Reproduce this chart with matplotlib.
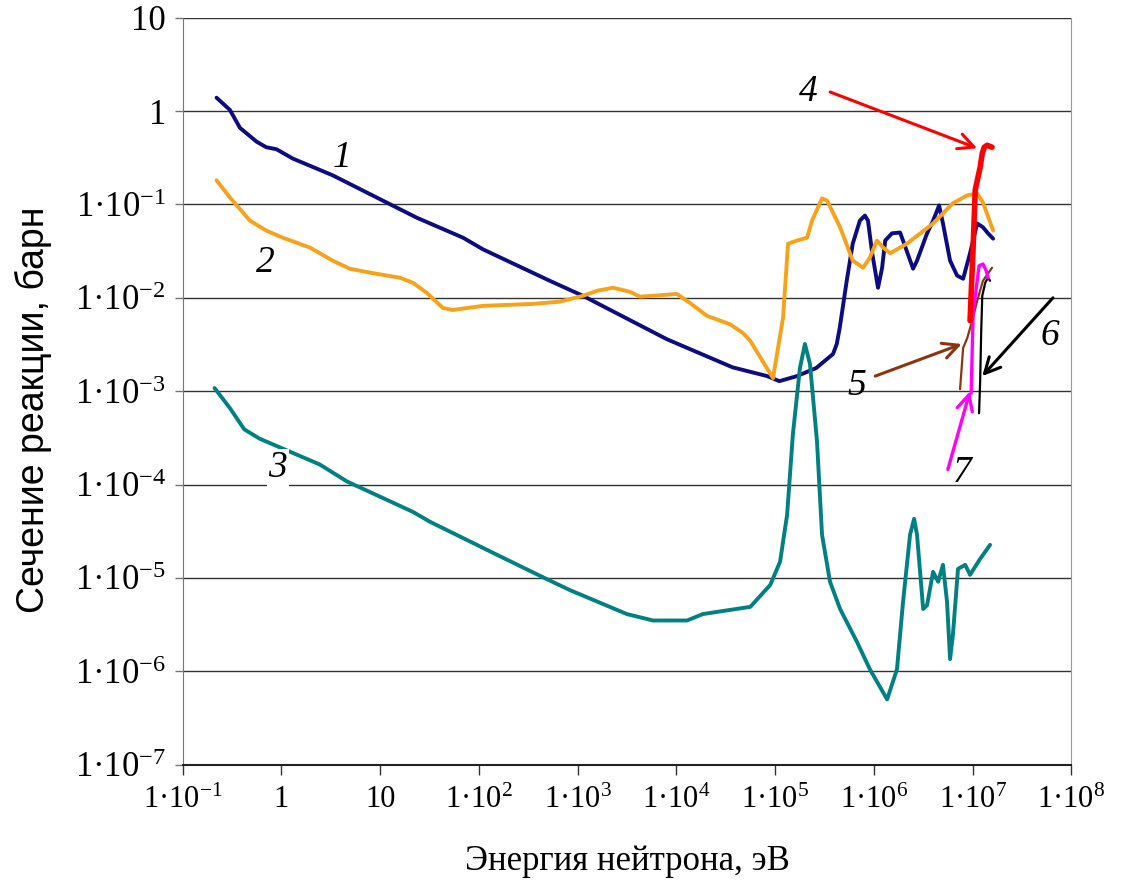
import numpy as np
import matplotlib
matplotlib.use("Agg")
from matplotlib import pyplot as plt
from matplotlib.ticker import FixedLocator, NullLocator

plt.rcParams['font.family'] = ['Liberation Serif', 'DejaVu Serif']
plt.rcParams['mathtext.fontset'] = 'custom'
plt.rcParams['mathtext.rm'] = 'Liberation Serif'
plt.rcParams['mathtext.it'] = 'Liberation Serif:italic'
plt.rcParams['lines.solid_joinstyle'] = 'round'
plt.rcParams['lines.solid_capstyle'] = 'round'

# curve 1 (navy)
e1 = [0.22, 0.30, 0.38, 0.56, 0.70, 0.89, 1.3, 3.3, 10.6, 23.5, 69, 110, 522, 1130,
      8000, 3.7e4, 8.3e4, 1.1e5, 1.66e5, 2.6e5, 3.85e5, 4.2e5, 4.5e5, 5.3e5, 6.1e5,
      7.2e5, 8.1e5, 8.7e5, 9.6e5, 1.07e6, 1.1e6, 1.21e6, 1.3e6, 1.52e6, 1.84e6,
      1.97e6, 2.49e6, 2.73e6, 3.45e6, 3.97e6, 4.57e6, 5.0e6, 5.9e6, 6.95e6, 8.0e6,
      9.4e6, 1.11e7, 1.27e7, 1.43e7, 1.61e7]
s1 = [1.39, 1.03, 0.66, 0.47, 0.41, 0.39, 0.31, 0.205, 0.11, 0.072, 0.044, 0.033,
      0.0152, 0.0105, 0.0036, 0.0018, 0.00145, 0.00128, 0.00145, 0.00177, 0.0025,
      0.0032, 0.00475, 0.0152, 0.038, 0.067, 0.076, 0.067, 0.030, 0.0152, 0.0128,
      0.021, 0.041, 0.049, 0.050, 0.041, 0.0205, 0.025, 0.049, 0.067, 0.0975,
      0.0625, 0.025, 0.0173, 0.016, 0.030, 0.0625, 0.057, 0.049, 0.043]

# curve 2 (orange)
e2 = [0.22, 0.30, 0.48, 0.70, 1.03, 1.94, 3.3, 4.9, 7.85, 15.8, 21.4, 29.6, 43, 54,
      110, 352, 660, 1130, 1570, 2280, 3380, 4270, 5780, 1.01e4, 1.37e4, 2.04e4,
      3.5e4, 4.7e4, 5.6e4, 9.5e4, 1.2e5, 1.35e5, 1.66e5, 2.1e5, 2.36e5, 2.98e5,
      3.35e5, 4.54e5, 6.1e5, 7.76e5, 9.1e5, 1.07e6, 1.24e6, 1.46e6, 2.16e6, 3.97e6,
      6.3e6, 8.8e6, 1.11e7, 1.27e7, 1.61e7]
s2 = [0.181, 0.119, 0.067, 0.0525, 0.044, 0.0345, 0.025, 0.0205, 0.0186, 0.0164,
      0.0145, 0.0113, 0.0078, 0.0074, 0.0082, 0.0086, 0.0091, 0.0105, 0.0119, 0.0128,
      0.0116, 0.0103, 0.0105, 0.011, 0.0088, 0.0064, 0.0052, 0.0042, 0.00345,
      0.00138, 0.0061, 0.038, 0.041, 0.044, 0.067, 0.116, 0.11, 0.057, 0.025, 0.021,
      0.027, 0.041, 0.0345, 0.030, 0.038, 0.0625, 0.103, 0.125, 0.131, 0.105, 0.0525]

# curve 3 (teal)
e3 = [0.21, 0.30, 0.42, 0.60, 2.44, 4.6, 21.4, 31.8, 152, 487, 834, 3150, 5780,
      1.28e4, 1.85e4, 5.6e4, 8.9e4, 1.12e5, 1.32e5, 1.51e5, 1.78e5, 2.0e5, 2.25e5,
      2.65e5, 2.98e5, 3.59e5, 4.54e5, 6.75e5, 9.1e5, 1.36e6, 1.71e6, 1.97e6, 2.32e6,
      2.55e6, 2.73e6, 3.15e6, 3.45e6, 3.97e6, 4.47e6, 5.0e6, 5.5e6, 5.9e6, 6.3e6,
      7.1e6, 8.4e6, 9.4e6, 1.19e7, 1.5e7]
s3 = [1.08e-3, 6.6e-4, 3.9e-4, 3.1e-4, 1.64e-4, 1.08e-4, 5.1e-5, 4.0e-5, 1.77e-5,
      9.7e-6, 7.4e-6, 4.1e-6, 3.5e-6, 3.5e-6, 4.1e-6, 4.9e-6, 8.4e-6, 1.49e-5,
      4.75e-5, 3.45e-4, 1.77e-3, 3.2e-3, 1.95e-3, 2.9e-4, 2.9e-5, 9.1e-6, 4.65e-6,
      2.05e-6, 1.05e-6, 5.0e-7, 1.05e-6, 5.5e-6, 2.9e-5, 4.3e-5, 2.9e-5, 4.65e-6,
      5.1e-6, 1.16e-5, 9.1e-6, 1.38e-5, 5.5e-6, 1.35e-6, 2.44e-6, 1.25e-5, 1.38e-5,
      1.08e-5, 1.6e-5, 2.26e-5]

# curve 4 (red)
e4 = [9.4e6, 1.01e7, 1.06e7, 1.13e7, 1.19e7, 1.25e7, 1.31e7, 1.4e7, 1.57e7]
s4 = [5.7e-3, 0.0345, 0.142, 0.195, 0.25, 0.353, 0.41, 0.43, 0.41]

# curve 5 (brown)
e5 = [7.45e6, 8.0e6, 8.8e6, 9.9e6, 1.11e7, 1.27e7, 1.57e7]
s5 = [1.05e-3, 2.9e-3, 3.7e-3, 5.7e-3, 9.3e-3, 0.0152, 0.021]

# curve 6 (black)
e6 = [1.16e7, 1.19e7, 1.22e7, 1.25e7, 1.34e7, 1.43e7, 1.5e7]
s6 = [5.8e-4, 1.28e-3, 4.4e-3, 0.0105, 0.0145, 0.0164, 0.0152]

# curve 7 (magenta)
e7 = [9.65e6, 9.9e6, 1.01e7, 1.11e7, 1.16e7, 1.27e7, 1.37e7, 1.43e7]
s7 = [9.5e-4, 2.9e-3, 6.7e-3, 0.0152, 0.022, 0.023, 0.0195, 0.0164]

x_ticks = [1e-1, 1, 10, 1e2, 1e3, 1e4, 1e5, 1e6, 1e7, 1e8]
x_labels = ['1·10$^{-1}$', '1', '10', '1·10$^{2}$', '1·10$^{3}$', '1·10$^{4}$',
            '1·10$^{5}$', '1·10$^{6}$', '1·10$^{7}$', '1·10$^{8}$']
y_ticks = [1e-7, 1e-6, 1e-5, 1e-4, 1e-3, 1e-2, 1e-1, 1, 10]
y_labels = ['1·10$^{-7}$', '1·10$^{-6}$', '1·10$^{-5}$', '1·10$^{-4}$', '1·10$^{-3}$',
            '1·10$^{-2}$', '1·10$^{-1}$', '1', '10']

fig = plt.figure(figsize=(11.35, 8.84), dpi=100)
ax = fig.add_axes([0.161, 0.135, 0.783, 0.845])
ax.set_xscale('log')
ax.set_yscale('log')
ax.set_xlim(1e-1, 1e8)
ax.set_ylim(1e-7, 10)

for yv in y_ticks:
    ax.axhline(yv, color='#333333', lw=1.0, zorder=1)

ax.plot(e1, s1, color='#0c0c80', lw=2.8, zorder=3)
ax.plot(e2, s2, color='#f7a21b', lw=2.8, zorder=3)
ax.plot(e3, s3, color='#008080', lw=2.8, zorder=3)
ax.plot(e5, s5, color='#8b3510', lw=1.6, zorder=4)
ax.plot(e6, s6, color='black', lw=1.6, zorder=4)
ax.plot(e7, s7, color='#ff00ff', lw=2.4, zorder=4)
ax.plot(e4, s4, color='#ff0000', lw=4.0, zorder=5)

lab = dict(fontsize=27, style='italic', ha='center', va='center', zorder=6)
ax.text(4.1, 0.32, '1', **lab)
ax.text(0.68, 0.0238, '2', **lab)
ax.text(0.92, 1.5e-4, '3', bbox=dict(facecolor='white', edgecolor='none', pad=1), **lab)
ax.text(2.15e5, 1.6, '4', **lab)
ax.text(6.7e5, 1.13e-3, '5', **lab)
ax.text(6.1e7, 3.9e-3, '6', **lab)
ax.text(7.9e6, 1.35e-4, '7', **lab)

def arrow(start, end, color, lw):
    ax.annotate('', xy=end, xytext=start, zorder=6,
                arrowprops=dict(arrowstyle='->', color=color, lw=lw,
                                mutation_scale=28, shrinkA=0, shrinkB=0))

arrow((3.6e5, 1.6), (1.11e7, 0.40), '#ff0000', 2.2)
arrow((1.03e6, 1.45e-3), (7.74e6, 3.2e-3), '#8b3510', 2.2)
arrow((6.5e7, 1.0e-2), (1.25e7, 1.45e-3), 'black', 2.2)
arrow((5.6e6, 1.45e-4), (9.4e6, 1.0e-3), '#ff00ff', 2.4)

ax.xaxis.set_major_locator(FixedLocator(x_ticks))
ax.xaxis.set_minor_locator(NullLocator())
ax.set_xticklabels(x_labels, fontsize=22)
ax.yaxis.set_major_locator(FixedLocator(y_ticks))
ax.yaxis.set_minor_locator(NullLocator())
ax.set_yticklabels(y_labels, fontsize=25)
ax.tick_params(axis='x', direction='out', length=7, width=1, color='#333333', pad=8)
ax.tick_params(axis='y', direction='out', length=6, width=1, color='#777777', pad=6)

ax.spines['top'].set_visible(False)
ax.spines['left'].set_color('#777777')
ax.spines['right'].set_color('#999999')
ax.spines['bottom'].set_color('#222222')
ax.spines['bottom'].set_linewidth(1.5)

ax.set_xlabel('Энергия нейтрона, эВ', fontsize=25, labelpad=22)
ax.set_ylabel('Сечение реакции, барн', fontsize=27, family=['Liberation Sans', 'DejaVu Sans'])
ax.yaxis.set_label_coords(-0.147, 0.475)

fig.savefig('out.png', dpi=100)
